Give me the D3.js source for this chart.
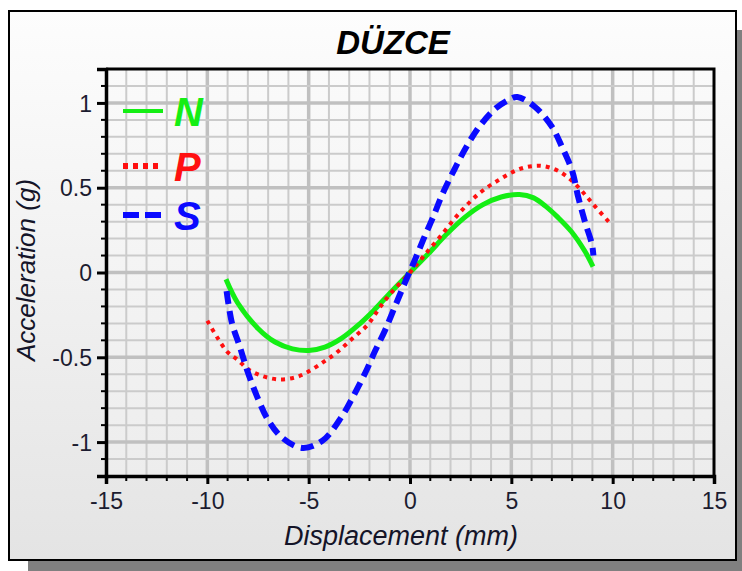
<!DOCTYPE HTML>
<html lang="tr">
<head>
<meta charset="utf-8" />
<title>DÜZCE</title>
<style>
  body { margin: 0; background: #ffffff; }
  text { font-family: "Liberation Sans", Arial, sans-serif; }
</style>
</head>
<body>
<script src="https://d3js.org/d3.v7.min.js"></script>
<script type="text/javascript">

const width = 742;
const height = 571;

// plot area (px)
const pLeft = 106, pRight = 714, pTop = 69, pBottom = 476;

// data
const title = "DÜZCE";
const xLabel = "Displacement (mm)";
const yLabel = "Acceleration (g)";
const seriesNames = ["N", "P", "S"];
const xTicks = [-15, -10, -5, 0, 5, 10, 15];
const yTicks = [-1, -0.5, 0, 0.5, 1];

const nX = [-9.08, -8.5, -7.5, -6.66, -5.8, -5.0, -4.2, -3.4, -2.6, -1.8, -0.9, 0, 0.9, 1.8, 2.7, 3.6, 4.5, 5.4, 6.1, 6.7, 7.3, 7.97, 8.63, 9.03];
const nY = [-0.04, -0.18, -0.33, -0.41, -0.45, -0.46, -0.44, -0.39, -0.315, -0.225, -0.11, 0.0, 0.11, 0.225, 0.325, 0.4, 0.445, 0.46, 0.44, 0.39, 0.325, 0.24, 0.125, 0.035];

const pX = [-10, -9.5, -9, -8.5, -8, -7.3, -6.5, -5.7, -5.1, -4.3, -3.6, -2.8, -2.1, -1.57, -1, 0, 0.66, 1.48, 2.47, 3.45, 4.44, 5.3, 6.0, 6.6, 7.3, 8.0, 8.63, 9.13, 9.8];
const pY = [-0.285, -0.385, -0.47, -0.515, -0.57, -0.61, -0.63, -0.62, -0.59, -0.53, -0.47, -0.385, -0.31, -0.22, -0.13, 0, 0.095, 0.21, 0.355, 0.47, 0.55, 0.605, 0.627, 0.627, 0.6, 0.54, 0.46, 0.39, 0.3];

const sX = [-9.05, -8.78, -8.39, -8.04, -7.55, -7.0, -6.3, -5.3, -4.3, -3.37, -2.8, -2.2, -1.73, -1.23, -0.74, -0.25, 0.25, 0.66, 1.15, 1.63, 2.2, 2.8, 3.45, 4.2, 4.9, 5.3, 6.17, 7.0, 7.5, 8.0, 8.3, 8.63, 8.98, 9.05];
const sY = [-0.11, -0.3, -0.44, -0.575, -0.73, -0.87, -0.975, -1.035, -0.99, -0.85, -0.73, -0.59, -0.465, -0.34, -0.2, -0.06, 0.077, 0.195, 0.33, 0.47, 0.61, 0.745, 0.865, 0.965, 1.02, 1.035, 0.976, 0.86, 0.74, 0.6, 0.445, 0.3, 0.165, 0.1];

const colors = ["#14ee14", "#ff1010", "#0a0aff"];
const dashes = [null, "4,5", "13,7"];
const widths = [5, 4, 6];

const svg = d3.select("body")
    .append("svg")
    .attr("width", width)
    .attr("height", height);

const defs = svg.append("defs");
const bg = defs.append("linearGradient").attr("id", "bg")
    .attr("x1", 0).attr("y1", 0).attr("x2", 0).attr("y2", 1);
bg.append("stop").attr("offset", "0%").attr("stop-color", "#fdfdfd");
bg.append("stop").attr("offset", "100%").attr("stop-color", "#e4e4e4");
const pbg = defs.append("linearGradient").attr("id", "pbg")
    .attr("x1", 0).attr("y1", 0).attr("x2", 0).attr("y2", 1);
pbg.append("stop").attr("offset", "0%").attr("stop-color", "#fafafa");
pbg.append("stop").attr("offset", "100%").attr("stop-color", "#ededed");

// shadow + frame
svg.append("rect")
    .attr("x", 28).attr("y", 30)
    .attr("width", 727).attr("height", 549)
    .attr("fill", "#808080");
svg.append("rect")
    .attr("x", 9).attr("y", 11)
    .attr("width", 727).attr("height", 549)
    .attr("fill", "url(#bg)")
    .attr("stroke", "#000").attr("stroke-width", 2);

const x = d3.scaleLinear().domain([-15, 15]).range([pLeft, pRight]);
const y = d3.scaleLinear().domain([-1.2, 1.2]).range([pBottom, pTop]);

svg.append("rect")
    .attr("x", pLeft).attr("y", pTop)
    .attr("width", pRight - pLeft).attr("height", pBottom - pTop)
    .attr("fill", "url(#pbg)");

// grid
const grid = svg.append("g");
const xMinor = d3.range(-14, 15, 1);
const yMinor = d3.range(-11, 12, 1).map(v => v / 10);
const isMajorY = d => Math.round(Math.abs(d * 10)) % 5 === 0;
grid.selectAll(".vx")
    .data(xMinor)
    .enter().append("line")
    .attr("x1", d => x(d)).attr("x2", d => x(d))
    .attr("y1", pTop).attr("y2", pBottom)
    .attr("stroke", d => d % 5 === 0 ? "#c0c0c0" : "#cbcbcb")
    .attr("stroke-width", d => d % 5 === 0 ? 3.5 : 2);
grid.selectAll(".hy")
    .data(yMinor)
    .enter().append("line")
    .attr("x1", pLeft).attr("x2", pRight)
    .attr("y1", d => y(d)).attr("y2", d => y(d))
    .attr("stroke", d => isMajorY(d) ? "#c0c0c0" : "#cbcbcb")
    .attr("stroke-width", d => isMajorY(d) ? 3.5 : 2);

// curves
const line = d3.line()
    .x(d => x(d[0]))
    .y(d => y(d[1]))
    .curve(d3.curveCatmullRom.alpha(0.5));

const series = [
  d3.zip(nX, nY),
  d3.zip(pX, pY),
  d3.zip(sX, sY)
];

svg.append("g").selectAll("path")
    .data(series)
    .enter().append("path")
    .attr("d", line)
    .attr("fill", "none")
    .attr("stroke", (d, i) => colors[i])
    .attr("stroke-width", (d, i) => widths[i])
    .attr("stroke-dasharray", (d, i) => dashes[i]);

// plot border (top / right)
svg.append("path")
    .attr("d", `M${pLeft},${pTop}H${pRight}V${pBottom}`)
    .attr("fill", "none")
    .attr("stroke", "#000")
    .attr("stroke-width", 3);

// axes
const fmt = d => String(d).replace("\u2212", "-");
const bottomAxis = d3.axisBottom(x).tickValues(xTicks).tickSize(8).tickFormat(fmt);
const leftAxis = d3.axisLeft(y).tickValues(yTicks).tickSize(9).tickFormat(fmt);

const gx = svg.append("g")
    .attr("transform", "translate(0," + pBottom + ")")
    .call(bottomAxis);
gx.append("g").selectAll("line")
    .data(xMinor.filter(d => d % 5 !== 0))
    .enter().append("line")
    .attr("x1", d => x(d)).attr("x2", d => x(d))
    .attr("y1", 0).attr("y2", 5)
    .attr("stroke", "#000").attr("stroke-width", 2);

const gy = svg.append("g")
    .attr("transform", "translate(" + pLeft + ",0)")
    .call(leftAxis);
gy.append("g").selectAll("line")
    .data(yMinor.filter(d => !isMajorY(d)))
    .enter().append("line")
    .attr("y1", d => y(d)).attr("y2", d => y(d))
    .attr("x1", 0).attr("x2", -5)
    .attr("stroke", "#000").attr("stroke-width", 2);

[gx, gy].forEach(g => {
  g.select(".domain").attr("stroke", "#000").attr("stroke-width", 3.5);
  g.selectAll(".tick line").attr("stroke", "#000").attr("stroke-width", 3);
  g.selectAll(".tick text")
    .attr("fill", "#1c1c30")
    .style("font-size", "23px")
    .style("font-family", "'Liberation Sans', Arial, sans-serif");
});
gx.selectAll(".tick text").attr("dy", "1.05em").attr("y", 9);
gy.selectAll(".tick text").attr("x", -14).attr("dy", "0.36em");

// title and labels
svg.append("text")
    .attr("x", 393).attr("y", 54)
    .attr("text-anchor", "middle")
    .style("font-size", "33px")
    .style("font-weight", "bold")
    .style("font-style", "italic")
    .text(title);

svg.append("text")
    .attr("x", 401).attr("y", 545)
    .attr("text-anchor", "middle")
    .attr("fill", "#141428")
    .style("font-size", "27px")
    .style("font-style", "italic")
    .text(xLabel);

svg.append("text")
    .attr("transform", "translate(35,270) rotate(-90)")
    .attr("text-anchor", "middle")
    .attr("fill", "#141428")
    .style("font-size", "26px")
    .style("font-style", "italic")
    .text(yLabel);

// legend
const legendY = [111, 166, 215];
const legend = svg.append("g").selectAll("g")
    .data(seriesNames)
    .enter().append("g")
    .attr("transform", (d, i) => "translate(0," + legendY[i] + ")");
legend.append("line")
    .attr("x1", 123).attr("x2", 163)
    .attr("y1", 0).attr("y2", 0)
    .attr("stroke", (d, i) => colors[i])
    .attr("stroke-width", (d, i) => i === 0 ? 4 : 6)
    .attr("stroke-dasharray", (d, i) => i === 1 ? "5,5" : i === 2 ? "16,6" : null);
legend.append("text")
    .attr("x", 174).attr("y", 15)
    .attr("fill", (d, i) => colors[i])
    .style("font-size", "40px")
    .style("font-weight", "bold")
    .style("font-style", "italic")
    .text(d => d);

</script>
</body>
</html>
